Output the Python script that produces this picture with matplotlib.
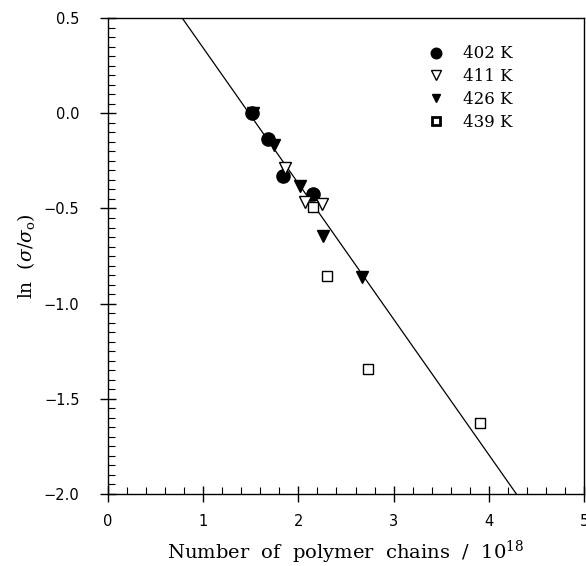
import matplotlib
matplotlib.use('Agg')
import matplotlib.pyplot as plt
import numpy as np
from matplotlib.ticker import MultipleLocator

plt.rcParams['mathtext.fontset'] = 'dejavuserif'

# ln(sigma/sigma0) vs number of polymer chains (x 1e18)
x_402 = [1.51, 1.685, 1.835, 2.15]
y_402 = [0.0, -0.137, -0.329, -0.422]

x_411 = [1.86, 2.07, 2.245]
y_411 = [-0.286, -0.466, -0.474]

x_426 = [1.52, 1.747, 2.017, 2.26, 2.672]
y_426 = [0.0, -0.166, -0.382, -0.647, -0.858]

x_439 = [2.15, 2.30, 2.73, 3.91]
y_439 = [-0.49, -0.856, -1.344, -1.628]

# fitted line
slope = -0.7123
intercept = 1.0556

fig = plt.figure(figsize=(5.86, 5.66), dpi=100)
ax = fig.add_axes([0.1843, 0.1272, 0.8123, 0.8408])

xl = np.array([0, 5])
ax.plot(xl, intercept + slope * xl, color='black', lw=0.9, zorder=1)

ax.plot(x_426, y_426, linestyle='none', marker='v', ms=8, color='black', zorder=2, label='426 K')
ax.plot(x_402, y_402, linestyle='none', marker='o', ms=9.5, color='black', zorder=3, label='402 K')
ax.plot(x_411, y_411, linestyle='none', marker='v', ms=8.5, mfc='white', mec='black', mew=1.0, zorder=3, label='411 K')
ax.plot(x_439, y_439, linestyle='none', marker='s', ms=7.5, mfc='white', mec='black', mew=1.0, zorder=4, label='439 K')

h, l = ax.get_legend_handles_labels()
order = [1, 2, 0, 3]
leg = ax.legend([h[i] for i in order], [l[i] for i in order], loc='upper left',
                bbox_to_anchor=(0.655, 0.96), frameon=False, handlelength=1.0,
                handletextpad=1.1, labelspacing=0.35, borderpad=0, markerscale=0.8,
                prop={'family': 'DejaVu Serif', 'size': 12})
leg.legend_handles[3].set_markeredgewidth(2.0)

ax.set_xlim(0, 5)
ax.set_ylim(-2.0, 0.5)
ax.xaxis.set_major_locator(MultipleLocator(1))
ax.xaxis.set_minor_locator(MultipleLocator(0.2))
ax.yaxis.set_major_locator(MultipleLocator(0.5))
ax.yaxis.set_minor_locator(MultipleLocator(0.05))
ax.yaxis.set_major_formatter(plt.FuncFormatter(lambda v, p: f'{v:.1f}'.replace('-', '\u2212')))

ax.tick_params(which='major', direction='inout', length=11, width=1.0, labelsize=10.5)
ax.tick_params(axis='x', which='major', pad=9)
ax.tick_params(axis='y', which='major', pad=15)
ax.tick_params(which='minor', direction='in', length=5, width=0.8)
ax.tick_params(top=False, right=False)
for s in ax.spines.values():
    s.set_linewidth(1.0)

ax.set_xlabel(r'Number  of  polymer  chains  /  $10^{18}$', family='DejaVu Serif', fontsize=14, labelpad=7)
ax.set_ylabel(r'ln  ($\sigma$/$\sigma_{\rm o}$)', family='DejaVu Serif', fontsize=13.5, labelpad=5)

fig.savefig('out.png', dpi=100)
